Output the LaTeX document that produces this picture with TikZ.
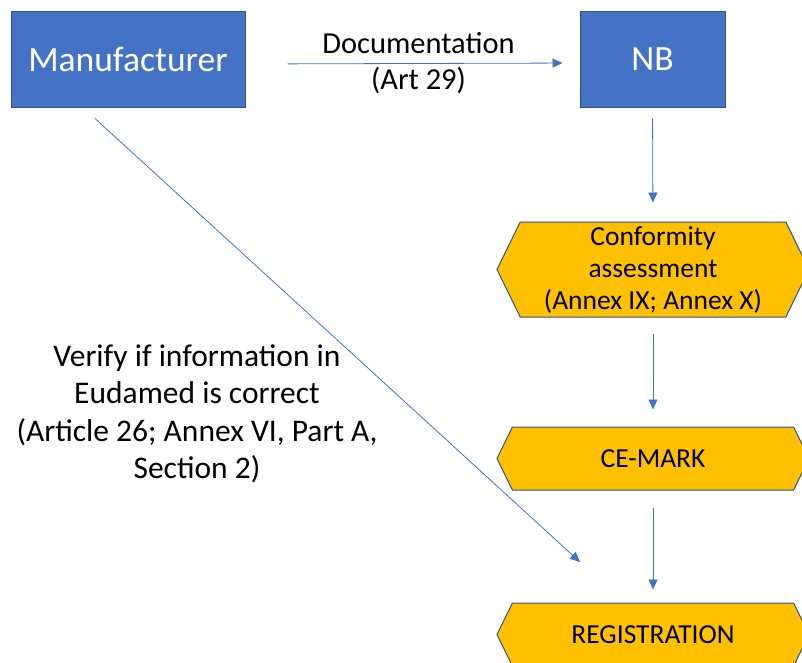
\documentclass[tikz,border=0pt]{standalone}
\usepackage{fontspec}
\setmainfont{Carlito}
\usetikzlibrary{arrows.meta,shapes.symbols}

\definecolor{boxblue}{HTML}{4472C4}
\definecolor{boxline}{HTML}{2F528F}
\definecolor{hexgold}{HTML}{FFC000}

\tikzstyle{party} = [draw=boxline,fill=boxblue,text=white,line width=1pt,font=\fontsize{35.5}{42}\selectfont,minimum height=96pt,inner sep=0pt]
\tikzstyle{stage} = [signal,signal to=west and east,signal pointer angle=128,draw=boxline,fill=hexgold,line width=1pt,align=center,font=\fontsize{27.5}{32}\selectfont,minimum width=312pt,inner sep=0pt]
\tikzstyle{note} = [align=center,font=\fontsize{31.5}{37.5}\selectfont]
\tikzstyle{arrowdecorate} = [-{Triangle[length=10pt,width=9pt]},draw=boxblue,line width=0.8pt]

\begin{document}
\begin{tikzpicture}[x=1pt,y=-1pt]
    \useasboundingbox (0,0) rectangle (802,662);

    \foreach \nodename/\txt/\x/\w in {
      man/Manufacturer/128/234,
      nb/NB/652.5/145}
    {
      \node[party, minimum width=\w pt] (\nodename) at (\x,59) {\txt};
    }

    \foreach \nodename/\txt/\y/\h in {
      conf/{Conformity\\assessment\\(Annex IX; Annex X)}/269.5/95,
      ce/CE-MARK/458.5/63,
      reg/REGISTRATION/634.5/63}
    {
      \node[stage, minimum height=\h pt] (\nodename) at (653,\y) {\txt};
    }

    \coordinate (verifytip) at (580,562);
    \node[note] (verify) at (197,414) {Verify if information in\\Eudamed is correct\\(Article 26; Annex VI, Part A,\\Section 2)};

    %edges or lines
    \path
      ([yshift=-5pt]man.east) edge[arrowdecorate, shorten <=42pt, shorten >=17pt] node[note, font=\fontsize{30.5}{36}\selectfont, xshift=6pt] {Documentation\\(Art 29)} ([yshift=-4pt]nb.west)
      ([xshift=-45pt]man.south) edge[arrowdecorate, shorten <=16pt] (verifytip);

    \path
    \foreach \startnode/\endnode/\pre/\post in {
      nb/conf/11/19, conf/ce/16/17, ce/reg/17/13}
    {
      (\startnode.south) edge[arrowdecorate, shorten <=\pre pt, shorten >=\post pt] (\endnode.north)
    };

\end{tikzpicture}
\end{document}
